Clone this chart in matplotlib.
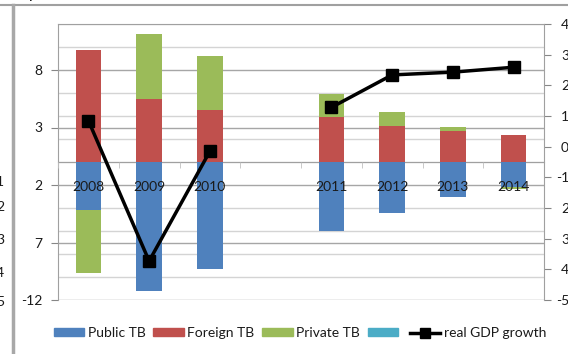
import numpy as np
import matplotlib
matplotlib.use("Agg")
import matplotlib.pyplot as plt
from matplotlib.patches import Patch
from matplotlib.lines import Line2D
from matplotlib.ticker import MultipleLocator, FixedLocator

plt.rcParams['font.family'] = ['Lato', 'DejaVu Sans']

# Datos
years = ['2008', '2009', '2010', '', '2011', '2012', '2013', '2014']
public_tb = [-4.2, -11.2, -9.3, np.nan, -6.0, -4.45, -3.0, -2.2]
foreign_tb = [9.7, 5.5, 4.5, np.nan, 3.95, 3.15, 2.7, 2.35]
private_tb = [-5.45, 5.6, 4.75, np.nan, 2.0, 1.2, 0.3, -0.15]
gdp_growth = [0.85, -3.73, -0.15, np.nan, 1.28, 2.34, 2.43, 2.59]

left_ticks = [-12, -7, -2, 3, 8]
left_labels = ['-12', '7', '2', '3', '8']
right_ticks = [-5, -4, -3, -2, -1, 0, 1, 2, 3, 4]
right_labels = ['-5', '4', '3', '2', '-1', '0', '1', '2', '3', '4']
legend_labels = ['Public TB', 'Foreign TB', 'Private TB', '', 'real GDP growth']

c_blue = '#4f81bd'
c_red = '#c0504d'
c_green = '#9bbb59'
c_teal = '#4bacc6'
grid_dark = '#a6a6a6'
grid_light = '#d4d4d4'
txt = '#1a1a1a'

W, H = 568, 354
fig = plt.figure(figsize=(W / 100, H / 100), dpi=100)
ax = fig.add_axes([58 / W, 1 - 300 / H, (544 - 58) / W, (300 - 24) / H])
ax2 = ax.twinx()

x = np.arange(len(years))
pub = np.array(public_tb)
fore = np.array(foreign_tb)
priv = np.array(private_tb)
priv_bottom = np.where(priv >= 0, fore, pub)

ax.bar(x, pub, 0.42, color=c_blue, zorder=3)
ax.bar(x, fore, 0.42, color=c_red, zorder=3)
ax.bar(x, priv, 0.42, bottom=priv_bottom, color=c_green, zorder=3)

ax.set_xlim(-0.5, len(years) - 0.5)
ax.set_ylim(-12, 12)
ax.yaxis.set_major_locator(FixedLocator(left_ticks))
ax.set_yticklabels(left_labels)
ax.yaxis.set_minor_locator(MultipleLocator(2))
ax.grid(axis='y', which='minor', color=grid_light, lw=1.0)
ax.grid(axis='y', which='major', color=grid_dark, lw=1.0)
ax.yaxis.set_zorder(0.5)
ax.tick_params(axis='y', which='major', length=5, color='#868686', pad=6,
               labelsize=10, labelcolor=txt)
ax.tick_params(axis='y', which='minor', length=0)

# eje x en cero, etiquetas encima de las barras
ax.spines['bottom'].set_position(('data', 0))
ax.spines['bottom'].set_color('#a0a0a0')
ax.spines['bottom'].set_zorder(1)
ax.set_xticks(x)
ax.set_xticklabels(years)
ax.set_xticks(np.arange(len(years) + 1) - 0.5, minor=True)
ax.tick_params(axis='x', which='major', length=0, pad=14, labelsize=10, labelcolor=txt)
ax.tick_params(axis='x', which='minor', length=4, color='#c0c0c0')
ax.xaxis.set_zorder(4)
for s in ['left', 'top']:
    ax.spines[s].set_color('#a0a0a0')
ax.spines['right'].set_visible(False)

# eje derecho
ax2.plot(x, gdp_growth, color='black', lw=2.5, marker='s', markersize=9, zorder=5)
ax2.set_ylim(-5, 4)
ax2.yaxis.set_major_locator(FixedLocator(right_ticks))
ax2.set_yticklabels(right_labels)
ax2.tick_params(axis='y', length=5, color='#868686', pad=13, labelsize=10, labelcolor=txt)
plt.setp(ax2.get_yticklabels(), ha='right')
for s in ['left', 'top', 'bottom']:
    ax2.spines[s].set_visible(False)
ax2.spines['right'].set_color('#a0a0a0')
ax.set_zorder(1)
ax2.set_zorder(2)
ax2.patch.set_visible(False)

# leyenda
handles = [Patch(color=c_blue), Patch(color=c_red), Patch(color=c_green), Patch(color=c_teal),
           Line2D([], [], color='black', lw=2.5, marker='s', markersize=7)]
fig.legend(handles, legend_labels, loc='center', bbox_to_anchor=(0.528, 1 - 333 / H),
           ncol=5, frameon=False, fontsize=10, handlelength=2.2, handleheight=0.5,
           handletextpad=0.25, columnspacing=0.55, labelcolor=txt)

# bordes y restos del recorte
fig.add_artist(Line2D([0, 1], [1 - 4.5 / H, 1 - 4.5 / H], color='#a0a0a0', lw=1.5))
fig.add_artist(Line2D([13 / W, 13 / W], [0, 1 - 4.5 / H], color='#a8a8a8', lw=2.5))
fig.text(29 / W, 1 + 2 / H, 'p', fontsize=11, color='black', va='baseline')
for yy, t in zip([182, 207, 240, 273, 302], ['1', '2', '3', '4', '5']):
    fig.text(-4 / W, 1 - yy / H, t, fontsize=10, color=txt, va='center', ha='left')

fig.savefig('out.png', dpi=100)
